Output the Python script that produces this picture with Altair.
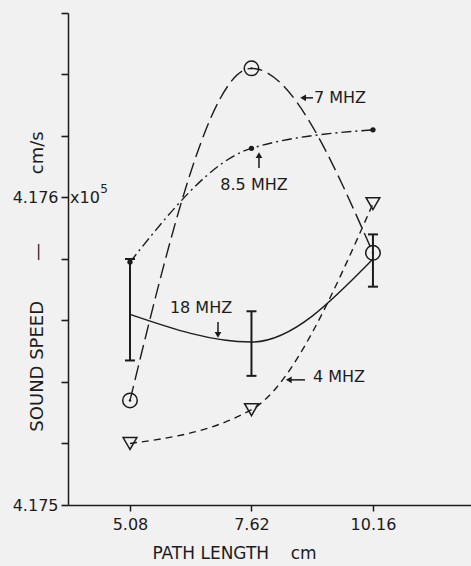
import altair as alt
import pandas as pd

# ---- data (sound speed in units of 1e5 cm/s) ----
path_cm = [5.08, 7.62, 10.16]
speed_7mhz = [4.17534, 4.17642, 4.17582]
speed_85mhz = [4.17579, 4.17616, 4.17622]
speed_4mhz = [4.17520, 4.17531, 4.17598]
speed_18mhz = [4.17562, 4.17553, 4.17580]
err18_lo = [4.17547, 4.17542, 4.17571]
err18_hi = [4.17580, 4.17563, 4.17588]

y_tick_values = [4.175, 4.1752, 4.1754, 4.1756, 4.1758, 4.176, 4.1762, 4.1764, 4.1766]
x_tick_values = [5.08, 7.62, 10.16]

# annotations (data coordinates)
label_text = ["7 MHZ", "8.5 MHZ", "18 MHZ", "4 MHZ"]
label_x = [8.927, 7.673, 6.565, 8.906]
label_y = [4.176324, 4.176041, 4.175641, 4.175416]
label_align = ["left", "center", "center", "left"]
arrow_x0 = [8.906, 7.777, 6.92, 8.739]
arrow_y0 = [4.176324, 4.176096, 4.175595, 4.175407]
arrow_x1 = [8.70, 7.777, 6.92, 8.40]
arrow_y1 = [4.176324, 4.176138, 4.175553, 4.175407]
arrow_head = ["triangle-left", "triangle-up", "triangle-down", "triangle-left"]

INK = "#1c1c1c"
FONT = "DejaVu Sans"

xs = alt.Scale(domain=[3.784, 12.21], nice=False, zero=False)
ys = alt.Scale(domain=[4.175, 4.1766], nice=False, zero=False)

nb = "\u00a0"
y_title = "SOUND" + nb + "SPEED" + nb * 7 + "—" + nb * 12 + "cm/s"
x_title = "PATH" + nb + "LENGTH" + nb * 4 + "cm"

x_axis = alt.Axis(values=x_tick_values, format=".2f", title=x_title, labelFontSize=16, labelFont=FONT,
                  labelColor=INK, tickSize=6, tickColor=INK, tickWidth=1.5,
                  domainColor=INK, domainWidth=1.5, grid=False, labelPadding=5,
                  labelFlush=False, labelOverlap=False,
                  titleFont=FONT, titleFontSize=17, titleFontWeight="normal", titleColor=INK,
                  titleX=166, titleY=48, titleBaseline="middle", titleAlign="center")
y_axis = alt.Axis(values=y_tick_values, title=y_title,
                  labelExpr="abs(datum.value-4.176)<1e-7 ? '4.176' : (abs(datum.value-4.175)<1e-7 ? '4.175' : '')",
                  labelFontSize=16, labelFont=FONT, labelColor=INK, tickSize=7, tickColor=INK,
                  tickWidth=1.6, domainColor=INK, domainWidth=1.5, grid=False, labelPadding=3,
                  labelFlush=False, labelOverlap=False,
                  titleFont=FONT, titleFontSize=18, titleFontWeight="normal", titleColor=INK,
                  titleX=-31, titleY=268, titleBaseline="middle", titleAlign="center", titleAngle=-90)


def X(field="x"):
    return alt.X(f"{field}:Q", scale=xs, axis=x_axis)


def Y(field="y"):
    return alt.Y(f"{field}:Q", scale=ys, axis=y_axis)


def frame(vals):
    return pd.DataFrame({"x": path_cm, "y": vals})


layers = []
styles = [(speed_7mhz, [15, 6]), (speed_85mhz, [10, 4, 2, 4]), (speed_4mhz, [7, 5]), (speed_18mhz, None)]
for vals, dash in styles:
    kw = dict(interpolate="monotone", color=INK, strokeWidth=1.4)
    if dash:
        kw["strokeDash"] = dash
    layers.append(alt.Chart(frame(vals)).mark_line(**kw).encode(x=X(), y=Y()))

# markers
layers.append(alt.Chart(frame(speed_7mhz)).mark_point(shape="circle", filled=False, size=210,
              color=INK, strokeWidth=1.5, opacity=1).encode(x=X(), y=Y()))
layers.append(alt.Chart(frame(speed_7mhz)).mark_point(shape="circle", filled=True, size=6,
              color=INK, opacity=1).encode(x=X(), y=Y()))
layers.append(alt.Chart(frame(speed_85mhz)).mark_point(shape="circle", filled=True, size=28,
              color=INK, opacity=1).encode(x=X(), y=Y()))
layers.append(alt.Chart(frame(speed_4mhz)).mark_point(shape="triangle-down", filled=False, size=190,
              color=INK, strokeWidth=1.5, opacity=1).encode(x=X(), y=Y()))

# error bars of 18 MHz
err = pd.DataFrame({"x": path_cm, "lo": err18_lo, "hi": err18_hi})
layers.append(alt.Chart(err).mark_rule(color=INK, strokeWidth=2).encode(
    x=X(), y=Y("lo"), y2="hi:Q"))
layers.append(alt.Chart(err).mark_tick(orient="horizontal", size=10, thickness=2, color=INK, opacity=1).encode(
    x=X(), y=Y("lo")))
layers.append(alt.Chart(err).mark_tick(orient="horizontal", size=10, thickness=2, color=INK, opacity=1).encode(
    x=X(), y=Y("hi")))

# labels
lab = pd.DataFrame({"x": label_x, "y": label_y, "t": label_text, "a": label_align})
for al in ["left", "center"]:
    layers.append(alt.Chart(lab[lab.a == al]).mark_text(align=al, baseline="middle", font=FONT,
                  fontSize=16, color=INK).encode(x=X(), y=Y(), text="t:N"))

# arrows
arr = pd.DataFrame({"x": arrow_x0, "y": arrow_y0, "x1": arrow_x1, "y1": arrow_y1, "h": arrow_head})
layers.append(alt.Chart(arr).mark_rule(color=INK, strokeWidth=1.5).encode(
    x=X(), y=Y(), x2="x1:Q", y2="y1:Q"))
layers.append(alt.Chart(arr).mark_point(filled=True, size=45, color=INK, opacity=1).encode(
    x=X("x1"), y=Y("y1"),
    shape=alt.Shape("h:N", scale=None, legend=None)))

# x10^5 multiplier
mult = pd.DataFrame({"x": [3.826], "y": [4.176], "t": ["x10"]})
sup = pd.DataFrame({"x": [4.537], "y": [4.176028], "t": ["5"]})
layers.append(alt.Chart(mult).mark_text(align="left", baseline="middle", font=FONT, fontSize=16,
              color=INK).encode(x=X(), y=Y(), text="t:N"))
layers.append(alt.Chart(sup).mark_text(align="center", baseline="middle", font=FONT, fontSize=12,
              color=INK).encode(x=X(), y=Y(), text="t:N"))

chart = alt.layer(*layers).properties(
    width=403, height=492,
    padding={"left": 68, "top": 13, "right": 0, "bottom": 61},
    autosize=alt.AutoSizeParams(type="none"),
    background="#f1f1f1",
).configure_view(stroke=None)

chart.save("out.html", embed_options={"renderer": "svg", "actions": False})
